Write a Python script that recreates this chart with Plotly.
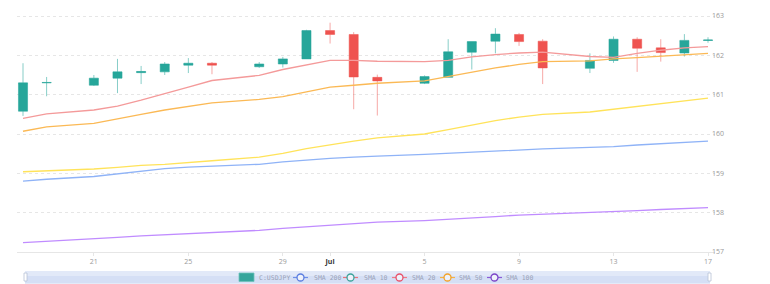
import plotly.graph_objects as go

dates = ["2024-06-18", "2024-06-19", "2024-06-21", "2024-06-22", "2024-06-23", "2024-06-24",
         "2024-06-25", "2024-06-26", "2024-06-28", "2024-06-29", "2024-06-30", "2024-07-01",
         "2024-07-02", "2024-07-03", "2024-07-05", "2024-07-06", "2024-07-07", "2024-07-08",
         "2024-07-09", "2024-07-10", "2024-07-12", "2024-07-13", "2024-07-14", "2024-07-15",
         "2024-07-16", "2024-07-17"]
open_ = [160.58, 161.30, 161.24, 161.42, 161.56, 161.58, 161.75, 161.80, 161.71, 161.78, 161.91, 162.63, 162.53,
         161.44, 161.29, 161.44, 162.08, 162.36, 162.53, 162.36, 161.67, 161.87, 162.41, 162.19, 162.06, 162.38]
high = [161.80, 161.45, 161.50, 161.91, 161.73, 161.83, 161.93, 161.83, 161.83, 161.96, 162.65, 162.83, 162.59,
        161.51, 161.49, 162.41, 162.35, 162.69, 162.57, 162.41, 162.05, 162.48, 162.46, 162.41, 162.54, 162.46]
low = [160.46, 160.96, 161.22, 161.04, 161.27, 161.50, 161.55, 161.52, 161.68, 161.69, 161.91, 162.30, 160.63,
       160.47, 161.27, 161.44, 161.64, 162.05, 162.24, 161.27, 161.55, 161.81, 161.58, 161.84, 161.97, 162.32]
close = [161.30, 161.31, 161.42, 161.58, 161.59, 161.78, 161.80, 161.75, 161.78, 161.91, 162.63, 162.53, 161.45,
         161.35, 161.46, 162.09, 162.35, 162.54, 162.35, 161.68, 161.87, 162.41, 162.18, 162.07, 162.38, 162.39]

sma_20 = [160.40, 160.51, 160.61, 160.71, 160.86, 161.02, 161.19, 161.36, 161.49, 161.64, 161.75, 161.87, 161.87,
          161.85, 161.84, 161.87, 161.96, 162.02, 162.06, 162.08, 161.97, 161.95, 162.05, 162.13, 162.19, 162.22]
sma_50 = [160.07, 160.18, 160.27, 160.39, 160.50, 160.61, 160.70, 160.79, 160.88, 160.95, 161.07, 161.19, 161.24,
          161.29, 161.35, 161.46, 161.58, 161.68, 161.77, 161.84, 161.86, 161.91, 161.94, 161.98, 162.02, 162.05]
sma_10 = [159.04, 159.06, 159.11, 159.15, 159.20, 159.23, 159.28, 159.32, 159.41, 159.51, 159.63, 159.73, 159.82,
          159.90, 160.00, 160.11, 160.23, 160.34, 160.43, 160.50, 160.56, 160.63, 160.70, 160.76, 160.84, 160.91]
sma_200 = [158.80, 158.85, 158.92, 158.99, 159.06, 159.12, 159.16, 159.18, 159.23, 159.29, 159.34, 159.38, 159.41,
           159.44, 159.48, 159.51, 159.54, 159.56, 159.59, 159.62, 159.66, 159.68, 159.72, 159.75, 159.79, 159.82]
sma_100 = [157.24, 157.27, 157.33, 157.37, 157.41, 157.44, 157.47, 157.50, 157.55, 157.60, 157.64, 157.68, 157.72,
           157.76, 157.80, 157.83, 157.86, 157.90, 157.94, 157.96, 158.00, 158.02, 158.05, 158.08, 158.11, 158.13]

x_tickvals = ["2024-06-21", "2024-06-25", "2024-06-29", "2024-07-01", "2024-07-05", "2024-07-09",
              "2024-07-13", "2024-07-17"]
x_ticktext = ["21", "25", "29", "<b><span style='color:#333333'>Jul</span></b>", "5", "9", "13", "17"]
y_tickvals = [157, 158, 159, 160, 161, 162, 163]

legend_names = ["C:USDJPY", "SMA 200", "SMA 10", "SMA 20", "SMA 50", "SMA 100"]

W, H = 770, 284
ML, MR, MT, MB = 17, 55, 0, 32
PW, PH = W - ML - MR, H - MT - MB


def px(x):
    return (x - ML) / PW


def py(y):
    return (MT + PH - y) / PH


fig = go.Figure()

lines = [
    ("SMA 200", sma_200, "#8fb3f7"),
    ("SMA 10", sma_10, "#ffe35a"),
    ("SMA 20", sma_20, "#f49a9a"),
    ("SMA 50", sma_50, "#fbb955"),
    ("SMA 100", sma_100, "#c08cff"),
]
for name, vals, col in lines:
    fig.add_trace(go.Scatter(x=dates, y=vals, name=name, mode="lines",
                             line=dict(color=col, width=1.3), showlegend=False))

fig.add_trace(go.Candlestick(
    x=dates, open=open_, high=high, low=low, close=close, name="C:USDJPY", showlegend=False,
    increasing=dict(fillcolor="#26a69a", line=dict(color="rgba(38,166,154,0.55)", width=1)),
    decreasing=dict(fillcolor="#ef5350", line=dict(color="rgba(239,83,80,0.5)", width=1)),
    whiskerwidth=0,
))

# scrollbar (decorative) below the axis
shapes = [
    dict(type="rect", xref="paper", yref="paper", x0=px(25), x1=px(710), y0=py(283.5), y1=py(271),
         fillcolor="#e2e9f8", line=dict(width=0), layer="below"),
    dict(type="rect", xref="paper", yref="paper", x0=px(25), x1=px(710), y0=py(283.5), y1=py(276),
         fillcolor="#d5dff5", line=dict(width=0), layer="below"),
    dict(type="rect", xref="paper", yref="paper", x0=px(24), x1=px(27), y0=py(281), y1=py(273),
         fillcolor="#ffffff", line=dict(color="#b8c2d6", width=0.8), layer="above"),
    dict(type="rect", xref="paper", yref="paper", x0=px(708), x1=px(711), y0=py(281), y1=py(273),
         fillcolor="#ffffff", line=dict(color="#b8c2d6", width=0.8), layer="above"),
]

# legend drawn over the scrollbar
LY = 277.5
shapes.append(dict(type="rect", xref="paper", yref="paper", x0=px(239), x1=px(254),
                   y0=py(281.5), y1=py(273), fillcolor="#35a59c", line=dict(color="#6fc2ba", width=0.8)))
legend_items = [  # (line start px, line colour, circle colour, text x)
    (293, "#6d8fe8", "#5a7de0", 312),
    (343, "#e8727a", "#3aa39a", 362),
    (392, "#f07a86", "#e8506a", 410),
    (440, "#f6b246", "#f2a22a", 457),
    (487, "#8a5cd6", "#7a44c8", 504),
]
annotations = [dict(text=legend_names[0], x=px(257), y=py(LY), xref="paper", yref="paper",
                    xanchor="left", yanchor="middle", showarrow=False,
                    font=dict(family="DejaVu Sans Mono", size=6.5, color="#9aa3b8"))]
for i, (lx, lc, cc, tx) in enumerate(legend_items):
    shapes.append(dict(type="line", xref="paper", yref="paper", x0=px(lx), x1=px(lx + 15),
                       y0=py(LY), y1=py(LY), line=dict(color=lc, width=1.2)))
    shapes.append(dict(type="circle", xref="paper", yref="paper", x0=px(lx + 4), x1=px(lx + 11),
                       y0=py(LY + 3.5), y1=py(LY - 3.5), fillcolor="#eef2fb",
                       line=dict(color=cc, width=1.3)))
    annotations.append(dict(text=legend_names[i + 1], x=px(tx), y=py(LY), xref="paper", yref="paper",
                            xanchor="left", yanchor="middle", showarrow=False,
                            font=dict(family="DejaVu Sans Mono", size=6.5, color="#9aa3b8")))

fig.update_layout(
    width=W, height=H,
    margin=dict(l=ML, r=MR, t=MT, b=MB, autoexpand=False),
    paper_bgcolor="white", plot_bgcolor="white",
    font=dict(family="Open Sans", size=7, color="#9a9a9a"),
    boxgap=0.45,
    showlegend=False,
    shapes=shapes,
    annotations=annotations,
    xaxis=dict(type="date", range=["2024-06-17 17:54", "2024-07-17 07:06"], automargin=False,
               rangeslider=dict(visible=False), showgrid=False, zeroline=False,
               tickmode="array", tickvals=x_tickvals, ticktext=x_ticktext,
               showline=True, linecolor="#e6e6e6", linewidth=1,
               ticks="outside", ticklen=3, tickcolor="#e6e6e6",
               tickfont=dict(size=7, color="#9a9a9a")),
    yaxis=dict(side="right", range=[157, 163.407], tickmode="array", tickvals=y_tickvals,
               showgrid=True, gridcolor="#e6e6e6", griddash="3px,3px", gridwidth=1, automargin=False,
               zeroline=False, showline=False, ticks="", ticklabelstandoff=-4,
               tickfont=dict(size=7, color="#9a9a9a")),
)

fig.write_html("out.html")
